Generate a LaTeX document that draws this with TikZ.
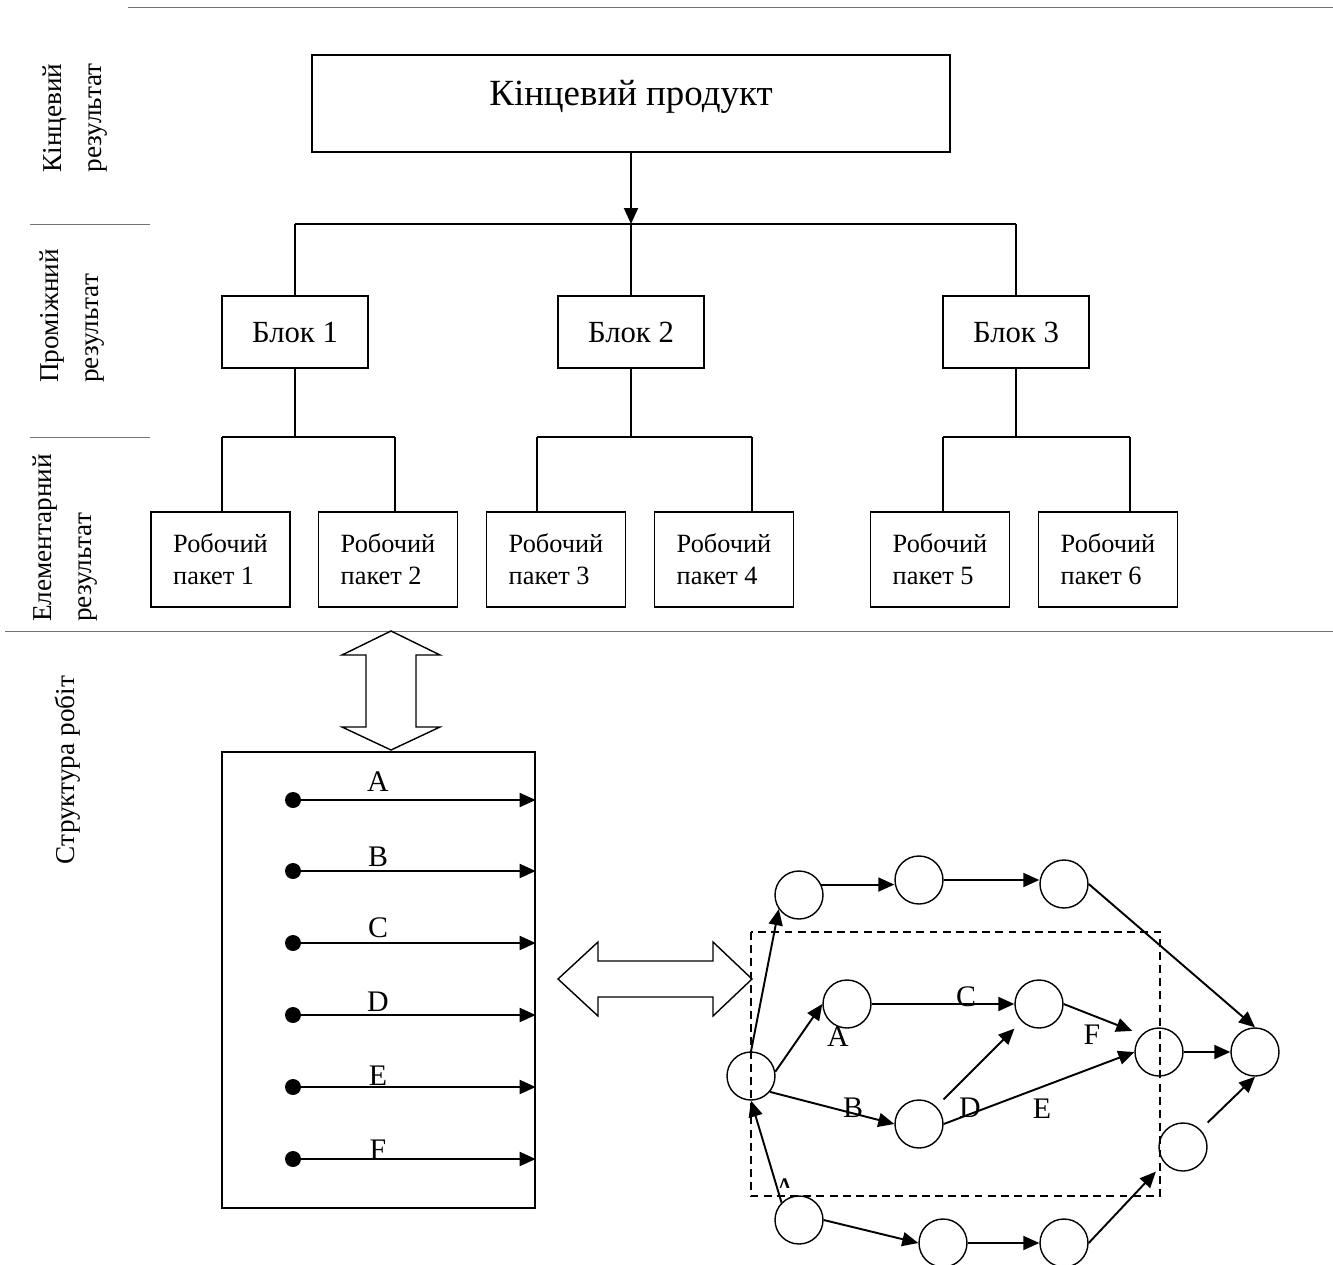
\documentclass[tikz,border=0pt]{standalone}
\usepackage{fontspec}
\setmainfont{Liberation Serif}
\usetikzlibrary{arrows.meta}
\tikzset{%
	block/.style  = {draw, line width=0.8pt, rectangle, minimum width=2.92cm,
		minimum height=1.44cm, font=\fontsize{17.5}{20}\selectfont},
	pack/.style   = {draw, line width=0.8pt, rectangle, minimum width=2.78cm,
		minimum height=1.9cm, align=left, font=\fontsize{15}{18}\selectfont},
	event/.style  = {draw, circle, line width=0.8pt, minimum size=0.96cm, inner sep=0pt}, % Event
	dot/.style    = {circle, fill, minimum size=0.32cm, inner sep=0pt},
	lbl/.style    = {inner sep=0pt, font=\fontsize{17}{20}\selectfont},
	side/.style   = {rotate=90, align=left, font=\fontsize{15.5}{22.8}\selectfont},
	rule/.style   = {draw=black!55, line width=0.5pt}, % Level line
	link/.style   = {line width=1.1pt, -{Triangle[length=0.32cm, width=0.28cm]}},
	wire/.style   = {line width=0.8pt},
	fat/.style    = {line width=0.8pt, fill=white} % Double arrow
}

\begin{document}
\begin{tikzpicture}[x=0.02cm, y=-0.02cm]
\useasboundingbox (0,0) rectangle (1333,1265);

% level lines and captions
\draw[rule] (128,7)   -- (1333,7);
\draw[rule] (30,224)  -- (150,224);
\draw[rule] (30,437)  -- (150,437);
\draw[rule] (5,631)   -- (1333,631);
\node[side] (lk) at (75,118)  {Кінцевий\\результат};
\node[side] (lp) at (72,316)  {Проміжний\\результат};
\node[side] (le) at (65,538)  {Елементарний\\результат};
\node[side] (ls) at (68,770)  {Структура робіт};

% tree
\node[block, minimum width=12.76cm, minimum height=1.94cm, text depth=0.44cm,
	font=\fontsize{21}{25}\selectfont] (kinc) at (631,103.5) {Кінцевий продукт};
\coordinate (bus) at (631,224);
\node[block] (b1) at (295,332)    {Блок 1};
\node[block] (b2) at (631,332)    {Блок 2};
\node[block] (b3) at (1016,332)   {Блок 3};
\node[pack] (p1) at (220.5,559.5) {Робочий\\пакет 1};
\node[pack] (p2) at (388,559.5)   {Робочий\\пакет 2};
\node[pack] (p3) at (556,559.5)   {Робочий\\пакет 3};
\node[pack] (p4) at (724,559.5)   {Робочий\\пакет 4};
\node[pack] (p5) at (940,559.5)   {Робочий\\пакет 5};
\node[pack] (p6) at (1108,559.5)  {Робочий\\пакет 6};
\coordinate (l1) at (222,437);  \coordinate (r1) at (395,437);
\coordinate (l2) at (537,437);  \coordinate (r2) at (752,437);
\coordinate (l3) at (943,437);  \coordinate (r3) at (1130,437);

\draw[link] (kinc) -- (bus);
\draw[wire] (b1.north |- bus) -- (b3.north |- bus);
\draw[wire] (b1.north |- bus) -- (b1.north);
\draw[wire] (bus) -- (b2.north);
\draw[wire] (b3.north |- bus) -- (b3.north);
\draw[wire] (b1.south) -- (b1.south |- l1);
\draw[wire] (b2.south) -- (b2.south |- l2);
\draw[wire] (b3.south) -- (b3.south |- l3);
\draw[wire] (l1) -- (r1);
\draw[wire] (l2) -- (r2);
\draw[wire] (l3) -- (r3);
\draw[wire] (l1) -- (l1 |- p1.north);
\draw[wire] (r1) -- (r1 |- p2.north);
\draw[wire] (l2) -- (l2 |- p3.north);
\draw[wire] (r2) -- (r2 |- p4.north);
\draw[wire] (l3) -- (l3 |- p5.north);
\draw[wire] (r3) -- (r3 |- p6.north);

% double arrows
\draw[fat] (391,631) -- (342,655) -- (366,655) -- (366,727) -- (342,727) -- (391,750)
	-- (440,727) -- (416,727) -- (416,655) -- (440,655) -- cycle;
\draw[fat] (558,979) -- (598,942) -- (598,961) -- (713,961) -- (713,942) -- (752,979)
	-- (713,1016) -- (713,997) -- (598,997) -- (598,1016) -- cycle;

% list of works
\node[draw, line width=0.8pt, minimum width=6.26cm, minimum height=9.12cm] (works) at (378.5,980) {};
\foreach \y/\t/\ty in {800/A/782, 871/B/857, 943/C/928, 1015/D/1002, 1087/E/1076, 1159/F/1150}{
	\node[dot] (d\t) at (293,\y) {};
	\draw[link] (d\t.center) -- (d\t -| works.east);
	\node[lbl] at (378,\ty) {\t};
}

% network
\draw[dashed, line width=0.8pt, dash pattern=on 4.5pt off 3pt] (751,932) rectangle (1160,1196);
\node[event] (n0)  at (751,1076)  {};
\node[event] (t1)  at (799,895)   {};
\node[event] (t2)  at (919,880)   {};
\node[event] (t3)  at (1064,884)  {};
\node[event] (na)  at (847,1004)  {};
\node[event] (nc)  at (1039,1004) {};
\node[event] (nf)  at (1159,1052) {};
\node[event] (fin) at (1255,1052) {};
\node[event] (nb)  at (919,1124)  {};
\node[event] (nr)  at (1183,1147) {};
\node[event] (s1)  at (799,1220)  {};
\node[event] (s2)  at (943,1243)  {};
\node[event] (s3)  at (1064,1243) {};

\draw[link] (n0.north) -- (t1.215);
\draw[link] (t1.25)    -- (t1.25 -| t2.west);
\draw[link] (t2.east)  -- (t2.east -| t3.west);
\draw[link] (t3.east)  -- (fin.north);
\draw[link] (n0.10)    -- (na.west);
\draw[link] (na)       -- (nc);
\draw[link, shorten >=0.2cm] (nc.east) -- (nf.135);
\draw[link] (n0.-40)   -- (nb.west);
\draw[link, shorten <=0.2cm, shorten >=0.2cm] (nb.45) -- (nc.225);
\draw[link] (nb.east)  -- (nf.west);
\draw[link] (nf)       -- (fin);
\draw[link, shorten <=0.2cm] (nr.45) -- (fin.south);
\draw[link] (s1.135)   -- (n0.south);
\draw[link] (s1.east)  -- (s2.west);
\draw[link] (s2)       -- (s3);
\draw[link, shorten >=0.24cm] (s3.east) -- (nr.220);

\node[lbl] at (838,1037) {A};
\node[lbl] at (966,997)  {C};
\node[lbl] at (1092,1035) {F};
\node[lbl] at (853,1108) {B};
\node[lbl] at (970,1108) {D};
\node[lbl] at (1042,1109) {E};
\begin{scope}
	\clip (770,1170) rectangle (800,1187);
	\node[lbl] (cutA) at (785,1189) {A};
\end{scope}
\end{tikzpicture}
\end{document}
